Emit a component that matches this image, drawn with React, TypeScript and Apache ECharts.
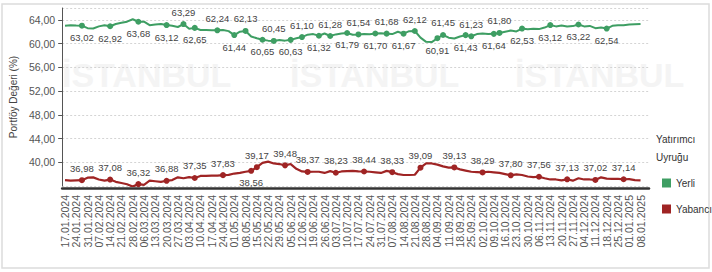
import React, { useEffect, useRef } from 'react';
import * as echarts from 'echarts';

// Weekly tick labels (one every second category)
const weekLabels = [
  '17.01.2024', '24.01.2024', '31.01.2024', '07.02.2024', '14.02.2024', '21.02.2024', '28.02.2024',
  '06.03.2024', '13.03.2024', '20.03.2024', '27.03.2024', '03.04.2024', '10.04.2024', '17.04.2024',
  '24.04.2024', '01.05.2024', '08.05.2024', '15.05.2024', '22.05.2024', '29.05.2024', '05.06.2024',
  '12.06.2024', '19.06.2024', '26.06.2024', '03.07.2024', '10.07.2024', '17.07.2024', '24.07.2024',
  '31.07.2024', '07.08.2024', '14.08.2024', '21.08.2024', '28.08.2024', '04.09.2024', '11.09.2024',
  '18.09.2024', '25.09.2024', '02.10.2024', '09.10.2024', '16.10.2024', '23.10.2024', '30.10.2024',
  '06.11.2024', '13.11.2024', '20.11.2024', '27.11.2024', '04.12.2024', '11.12.2024', '18.12.2024',
  '25.12.2024', '01.01.2025', '08.01.2025',
];

// Yerli (domestic) share, %, two readings per week
const yerli = [
  63.00, 63.10, 63.05, 63.02, 62.60, 62.55, 62.90, 63.10, 62.92, 63.30,
  63.50, 63.70, 64.10, 63.68, 63.70, 63.10, 63.20, 63.30, 63.12, 63.00,
  62.80, 63.29, 62.50, 62.65, 62.30, 62.30, 62.25, 62.24, 62.30, 62.10,
  61.44, 62.00, 62.13, 61.20, 60.90, 60.65, 60.50, 60.45, 60.60, 60.50,
  60.63, 60.90, 61.10, 61.50, 61.60, 61.32, 61.70, 61.28, 61.55, 61.70,
  61.79, 61.50, 61.54, 61.60, 61.56, 61.70, 61.75, 61.68, 61.60, 62.00,
  61.67, 62.10, 62.12, 61.00, 60.30, 60.25, 60.91, 61.45, 61.00, 60.87,
  61.20, 61.43, 61.23, 61.60, 61.71, 61.60, 61.64, 61.80, 62.00, 62.20,
  62.05, 62.53, 62.40, 62.50, 62.44, 62.70, 63.12, 62.90, 63.05, 62.87,
  62.95, 63.22, 62.90, 62.98, 62.60, 62.70, 62.54, 63.00, 63.10, 63.10,
  63.20, 63.25, 63.30,
];

// Yabancı (foreign) share, %
const yabanci = [
  37.00, 36.90, 36.95, 36.98, 37.40, 37.45, 37.10, 36.90, 37.08, 36.70,
  36.50, 36.30, 35.90, 36.32, 36.20, 36.90, 36.80, 36.70, 36.88, 37.00,
  37.46, 37.30, 37.50, 37.35, 37.70, 37.70, 37.75, 37.75, 37.83, 37.87,
  38.10, 38.20, 38.40, 38.56, 39.17, 39.90, 40.10, 39.80, 39.70, 39.48,
  39.70, 38.90, 38.45, 38.37, 38.40, 38.40, 38.20, 38.50, 38.23, 38.45,
  38.50, 38.55, 38.45, 38.44, 38.40, 38.30, 38.20, 38.55, 38.33, 38.00,
  37.85, 37.85, 37.90, 39.09, 39.80, 39.80, 39.60, 39.30, 39.10, 39.13,
  38.80, 38.60, 38.40, 38.35, 38.29, 38.40, 38.30, 38.20, 38.00, 37.80,
  37.95, 37.85, 37.60, 37.50, 37.56, 37.30, 37.10, 37.10, 36.95, 37.13,
  36.90, 37.30, 37.10, 37.10, 37.02, 37.46, 37.25, 37.20, 37.20, 37.14,
  37.15, 37.00, 36.95,
];

// Indices of labelled points
const yerliTopLabels = [21, 27, 32, 37, 42, 47, 52, 57, 62, 67, 72, 77];
const yerliBottomLabels = [3, 8, 13, 18, 23, 30, 35, 40, 45, 50, 55, 60, 66, 71, 76, 81, 86, 91, 96];
const yabanciTopLabels = [3, 8, 13, 18, 23, 28, 34, 39, 43, 48, 53, 58, 63, 69, 74, 79, 84, 89, 94, 99];
const yabanciBottomLabels = [33];

const yTicks = { min: 36, max: 66, interval: 4 };

const GREEN = '#3e9e63';
const RED = '#9f2424';
const FONT = '"Liberation Sans", Arial, sans-serif';

const fmtDate = (d: Date) =>
  `${String(d.getDate()).padStart(2, '0')}.${String(d.getMonth() + 1).padStart(2, '0')}.${d.getFullYear()}`;

const categories = weekLabels.flatMap((w) => {
  const [dd, mm, yy] = w.split('.').map(Number);
  return [w, fmtDate(new Date(yy, mm - 1, dd + 3))];
});

const comma = (v: number) => v.toFixed(2).replace('.', ',');

const mkData = (vals: number[], top: number[], bottom: number[]) =>
  vals.map((v, i) => {
    const pos = top.includes(i) ? 'top' : bottom.includes(i) ? 'bottom' : null;
    if (!pos) return v;
    return {
      value: v,
      symbol: 'circle',
      symbolSize: 6,
      label: { show: true, position: pos },
    };
  });

export default function App() {
  const ref = useRef<HTMLDivElement>(null);
  useEffect(() => {
    if (!ref.current) return;
    const chart = echarts.init(ref.current, null, { renderer: 'svg' });
    const labelStyle = {
      fontSize: 9.5,
      color: '#444',
      fontFamily: FONT,
      distance: 4,
      formatter: (p: any) => comma(Number(p.value)),
    };
    const wm = (left: number) => ({
      type: 'text',
      silent: true,
      z: -10,
      left,
      top: 58,
      style: { text: 'İSTANBUL', fontSize: 34, fontWeight: 'bold', fill: '#f4f4f4', fontFamily: FONT },
    });
    chart.setOption({
      animation: false,
      backgroundColor: '#fff',
      textStyle: { fontFamily: FONT },
      grid: { left: 60, right: 63, top: 8, height: 178 },
      legend: {
        orient: 'vertical',
        left: 657,
        top: 173,
        itemWidth: 9,
        itemHeight: 9,
        itemGap: 16,
        icon: 'rect',
        data: ['Yerli', 'Yabancı'],
        textStyle: { fontSize: 10, color: '#333', fontFamily: FONT },
      },
      graphic: [
        {
          type: 'rect',
          silent: true,
          z: -20,
          shape: { x: 2, y: 4, width: 707, height: 264 },
          style: { fill: 'none', stroke: '#dcdcdc', lineWidth: 1.5 },
        },
        wm(62),
        wm(290),
        wm(515),
        { type: 'text', left: 656, top: 134, style: { text: 'Yatırımcı', fontSize: 10, fill: '#333', fontFamily: FONT } },
        { type: 'text', left: 656, top: 152, style: { text: 'Uyruğu', fontSize: 10, fill: '#333', fontFamily: FONT } },
      ],
      xAxis: {
        type: 'category',
        data: categories,
        boundaryGap: true,
        offset: 2,
        axisLine: { lineStyle: { color: '#333', width: 2.5 } },
        axisTick: { show: false },
        axisLabel: {
          interval: 1,
          rotate: 90,
          fontSize: 10.5,
          color: '#555',
          margin: 7,
          fontFamily: FONT,
        },
        splitLine: { show: false },
      },
      yAxis: {
        type: 'value',
        min: yTicks.min,
        max: yTicks.max,
        interval: yTicks.interval,
        name: 'Portföy Değeri (%)',
        nameLocation: 'middle',
        nameGap: 38,
        nameTextStyle: { fontSize: 10, color: '#444', fontFamily: FONT },
        axisLine: { show: true, lineStyle: { color: '#555', width: 1 } },
        axisTick: { show: true, length: 4, lineStyle: { color: '#555' } },
        axisLabel: {
          fontSize: 10.5,
          color: '#555',
          margin: 7,
          showMinLabel: false,
          showMaxLabel: false,
          formatter: (v: number) => comma(v),
          fontFamily: FONT,
        },
        splitLine: { show: true, lineStyle: { color: '#d4d4d4', type: [2, 2], width: 1 } },
      },
      series: [
        {
          name: 'Yerli',
          type: 'line',
          color: GREEN,
          symbol: 'none',
          showAllSymbol: true,
          lineStyle: { width: 2, color: GREEN },
          itemStyle: { color: GREEN },
          label: labelStyle,
          data: mkData(yerli, yerliTopLabels, yerliBottomLabels),
        },
        {
          name: 'Yabancı',
          type: 'line',
          color: RED,
          symbol: 'none',
          showAllSymbol: true,
          lineStyle: { width: 2.2, color: RED },
          itemStyle: { color: RED },
          label: labelStyle,
          data: mkData(yabanci, yabanciTopLabels, yabanciBottomLabels),
        },
      ],
    });
    return () => chart.dispose();
  }, []);
  return (
    <div
      ref={ref}
      style={{ position: 'fixed', left: 0, top: 0, width: 712, height: 272, background: '#fff' }}
    />
  );
}
